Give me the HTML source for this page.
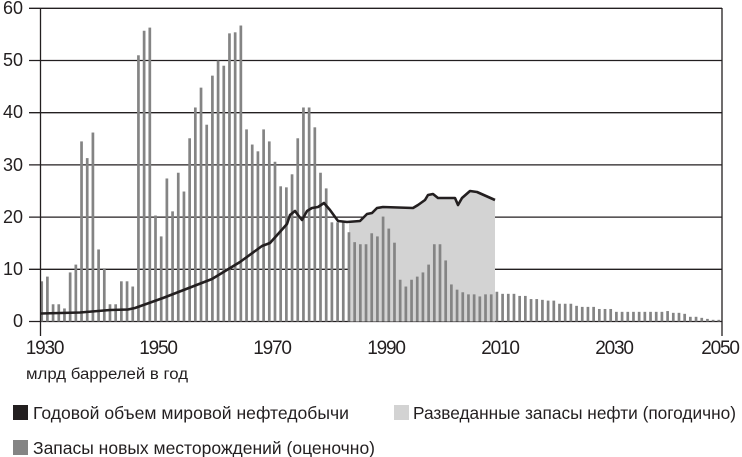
<!DOCTYPE html>
<html><head><meta charset="utf-8"><style>
html,body{margin:0;padding:0;background:#fff;}
svg{display:block;font-family:"Liberation Sans",sans-serif;}
</style></head><body>
<svg id="s" width="742" height="457" viewBox="0 0 742 457" xmlns="http://www.w3.org/2000/svg">
<g id="grid" stroke="#231f20" stroke-width="1.3"></g>
<polygon id="area" fill="#d3d3d3"></polygon>
<g id="bars" fill="#848484"></g>
<polyline id="line" fill="none" stroke="#231f20" stroke-width="2.6" stroke-linejoin="round"></polyline>
<line x1="40.5" y1="8" x2="40.5" y2="336" stroke="#231f20" stroke-width="1.3"/>
<line x1="722" y1="8" x2="722" y2="336" stroke="#231f20" stroke-width="1.3"/>
<g font-size="18" fill="#231f20" text-anchor="end">
<text x="23" y="14">60</text><text x="23" y="66">50</text><text x="23" y="118">40</text>
<text x="23" y="171">30</text><text x="23" y="223">20</text><text x="23" y="275">10</text><text x="23" y="327">0</text>
</g>
<g font-size="19" fill="#231f20" text-anchor="middle" letter-spacing="-1.2">
<text x="44.5" y="354">1930</text><text x="158" y="354">1950</text><text x="272" y="354">1970</text>
<text x="386" y="354">1990</text><text x="500" y="354">2010</text><text x="614" y="354">2030</text><text x="720" y="354">2050</text>
</g>
<text x="26" y="379" font-size="15.5" fill="#231f20" textLength="162" lengthAdjust="spacingAndGlyphs">млрд баррелей в год</text>
<rect x="13" y="405" width="15" height="15" fill="#231f20"/>
<text x="33" y="419" font-size="17.5" fill="#231f20" textLength="316" lengthAdjust="spacingAndGlyphs">Годовой объем мировой нефтедобычи</text>
<rect x="13" y="440" width="15" height="15" fill="#848484"/>
<text x="33" y="454" font-size="17.5" fill="#231f20" textLength="342" lengthAdjust="spacingAndGlyphs">Запасы новых месторождений (оценочно)</text>
<rect x="394" y="405" width="15" height="15" fill="#d3d3d3"/>
<text x="413" y="419" font-size="17.5" fill="#231f20" textLength="323" lengthAdjust="spacingAndGlyphs">Разведанные запасы нефти (погодично)</text>
</svg>
<script>
var NS="http://www.w3.org/2000/svg";
function Y(v){return 321.5-5.22*v;}
function X(yr){return 41.7+5.69*(yr-1930);}
var g=document.getElementById('grid');
for(var i=0;i<=6;i++){var l=document.createElementNS(NS,'line');var y=Y(i*10);l.setAttribute('x1',29);l.setAttribute('x2',722);l.setAttribute('y1',y);l.setAttribute('y2',y);g.appendChild(l);}
var v=[7.7,8.6,3.3,3.3,2.5,9.4,10.9,34.5,31.3,36.2,13.8,10.2,3.3,3.3,7.7,7.7,6.7,51,55.7,56.3,
20.3,16.3,27.4,21.1,28.5,24.9,35.1,41,44.8,37.7,47.1,50,49,55.2,55.4,56.7,36.8,33.9,32.6,36.8,
34.5,30.6,25.9,25.7,28.2,35.1,41,41,37.2,28.5,25.5,19,19,19,17.1,15.2,14.8,14.8,16.9,16.3,
20.1,17.8,15.1,8,6.7,8,8.6,9.4,10.9,14.8,14.8,11.7,7.1,6.1,5.6,5.2,5.2,4.8,5.2,5.2,
5.7,5.3,5.3,5.3,4.9,4.9,4.3,4.3,4.15,4,4,3.4,3.4,3.4,3.0,2.8,2.8,2.8,2.4,2.4,
2.4,1.85,1.85,1.85,1.85,1.85,1.85,1.85,1.85,1.85,2.0,1.66,1.66,1.47,0.9,0.9,0.7,0.5,0.32,0.32];
var b=document.getElementById('bars');
for(var k=0;k<v.length;k++){var r=document.createElementNS(NS,'rect');var y=Y(v[k]);r.setAttribute('x',(X(1930+k)-1.35).toFixed(2));r.setAttribute('width',2.7);r.setAttribute('y',y.toFixed(2));r.setAttribute('height',(321.5-y).toFixed(2));b.appendChild(r);}
var pts=[[40.5,313.5],[80,312.5],[110,310],[128,309.5],[135,308],[163,298],[212,279],[240,262],[262,246],[270,243],[287,224],[290,215],[295,211],[298,215],[302,220],[307,211],[312,208],[318,207],[324,203],[330,210],[338,221],[347,222],[360,221],[367,214],[372,213],[377,208],[383,207],[413,208],[418,205],[425,200],[428,195],[433,194],[438,198],[455,198],[458,205],[462,198],[470,191],[477,192],[495,200]];
document.getElementById('line').setAttribute('points',pts.map(function(p){return p.join(',')}).join(' '));
var a=pts.filter(function(p){return p[0]>=347;});
a=[[349,321.5],[349,222]].concat(a).concat([[495,321.5]]);
document.getElementById('area').setAttribute('points',a.map(function(p){return p.join(',')}).join(' '));
</script>
</body></html>
